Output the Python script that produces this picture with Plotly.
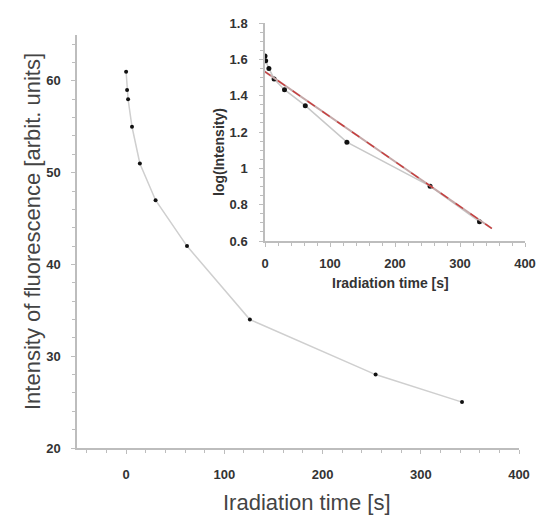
import plotly.graph_objects as go

# Main chart data
time_s = [0, 1, 2, 6, 14, 30, 62, 126, 254, 342]
intensity = [61, 59, 58, 55, 51, 47, 42, 34, 28, 25]

# Inset data (log of intensity)
inset_time = [0, 1, 6, 14, 30, 62, 126, 254, 330]
inset_log = [1.619, 1.592, 1.550, 1.492, 1.433, 1.345, 1.144, 0.902, 0.706]

# Linear fit line (read endpoints)
fit_time = [-3, 349]
fit_log = [1.539, 0.669]

main_x_ticks = [0, 100, 200, 300, 400]
main_y_ticks = [20, 30, 40, 50, 60]
inset_x_ticks = [0, 100, 200, 300, 400]
inset_y_ticks = [0.6, 0.8, 1.0, 1.2, 1.4, 1.6, 1.8]
inset_y_labels = ["0.6", "0.8", "1", "1.2", "1.4", "1.6", "1.8"]

AX = "#bdbdbd"
TXT = "#333333"
FONT = "Liberation Sans, Arial, sans-serif"

W, H = 536, 520
ML, MR, MT, MB = 77, 5, 20, 72
PW = W - ML - MR
PH = H - MT - MB


def px_x(v):
    return (v - ML) / PW


def px_y(v):
    return (H - MB - v) / PH


fig = go.Figure()

fig.add_trace(go.Scatter(
    x=time_s, y=intensity, mode="lines+markers",
    line=dict(color="#cfcfcf", width=1.5),
    marker=dict(color="#111111", size=4),
    xaxis="x", yaxis="y", showlegend=False, hoverinfo="skip"))

fig.add_trace(go.Scatter(
    x=inset_time, y=inset_log, mode="lines+markers",
    line=dict(color="#c8c8c8", width=1.5),
    marker=dict(color="#111111", size=5),
    xaxis="x2", yaxis="y2", showlegend=False, hoverinfo="skip"))

fig.add_trace(go.Scatter(
    x=fit_time, y=fit_log, mode="lines",
    line=dict(color="#c4a8a8", width=2),
    xaxis="x2", yaxis="y2", showlegend=False, hoverinfo="skip"))
fig.add_trace(go.Scatter(
    x=fit_time, y=fit_log, mode="lines",
    line=dict(color="#c83c3c", width=1.4, dash="dash"),
    xaxis="x2", yaxis="y2", showlegend=False, hoverinfo="skip"))

tickfont = dict(family=FONT, size=13, color=TXT, weight="bold")

common_axis = dict(showgrid=False, zeroline=False, showline=True,
                   linecolor=AX, linewidth=1.5, ticks="outside",
                   tickcolor=AX, ticklen=4, tickwidth=1.2,
                   tickfont=tickfont, automargin=False)

fig.update_layout(
    width=W, height=H,
    margin=dict(l=ML, r=MR, t=MT, b=MB, autoexpand=False),
    paper_bgcolor="white", plot_bgcolor="white",
    xaxis=dict(domain=[0, px_x(519)], range=[-50, 400], anchor="y",
               tickvals=main_x_ticks, ticklabelstandoff=10,
               minor=dict(dtick=20, ticks="outside", ticklen=3, tickcolor=AX),
               **common_axis),
    yaxis=dict(domain=[0, px_y(35)], range=[20, 65], anchor="x",
               tickvals=main_y_ticks, ticklabelstandoff=8,
               minor=dict(dtick=2, ticks="outside", ticklen=3, tickcolor=AX),
               **common_axis),
    xaxis2=dict(domain=[px_x(265), px_x(525)], range=[0, 400], anchor="y2",
                tickvals=inset_x_ticks, ticklabelstandoff=6,
                minor=dict(dtick=20, ticks="outside", ticklen=3, tickcolor=AX),
                **common_axis),
    yaxis2=dict(domain=[px_y(241), px_y(23)], range=[0.6, 1.8], anchor="x2",
                tickvals=inset_y_ticks, ticktext=inset_y_labels,
                ticklabelstandoff=9,
                minor=dict(dtick=0.05, ticks="outside", ticklen=3, tickcolor=AX),
                **common_axis),
    annotations=[
        dict(text="Iradiation time [s]", x=px_x(307), y=px_y(503),
             xref="paper", yref="paper", xanchor="center", yanchor="middle",
             showarrow=False, font=dict(family=FONT, size=22, color="#444444")),
        dict(text="Intensity of fluorescence [arbit. units]", x=px_x(32), y=px_y(232),
             xref="paper", yref="paper", xanchor="center", yanchor="middle",
             showarrow=False, textangle=-90,
             font=dict(family=FONT, size=22, color="#444444")),
        dict(text="Iradiation time [s]", x=px_x(390), y=px_y(283),
             xref="paper", yref="paper", xanchor="center", yanchor="middle",
             showarrow=False,
             font=dict(family=FONT, size=14, color=TXT, weight="bold")),
        dict(text="log(Intensity)", x=px_x(219), y=px_y(152),
             xref="paper", yref="paper", xanchor="center", yanchor="middle",
             showarrow=False, textangle=-90,
             font=dict(family=FONT, size=14, color=TXT, weight="bold")),
    ],
)

fig.write_html("out.html",
               config={"displayModeBar": False},
               post_script="document.body.style.margin='0';document.body.style.overflow='hidden';")
